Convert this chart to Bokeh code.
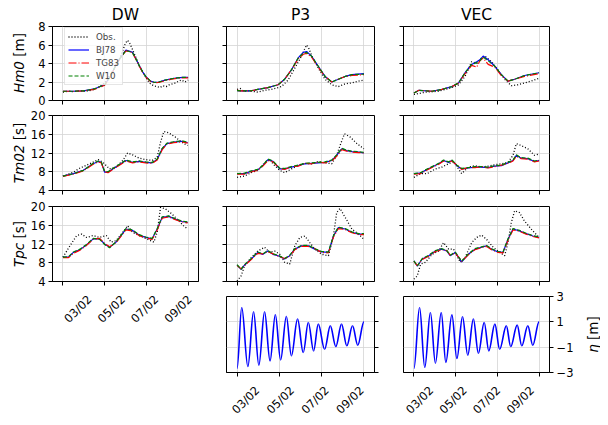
from math import pi
from bokeh.plotting import figure
from bokeh.layouts import row, column
from bokeh.models import Range1d, FixedTicker, Legend, LegendItem, Title
from bokeh.core.properties import value
from bokeh.embed import file_html
from bokeh.resources import INLINE

# ---------------- data (time in days after 03/02 00:00) ----------------
date_ticks = [0, 2, 4, 6]
date_labels = ["03/02", "05/02", "07/02", "09/02"]
stations = ["DW", "P3", "VEC"]
ylab_italic = ["Hm0", "Tm02", "Tpc"]
ylab_rest = ["[m]", "[s]", "[s]"]
eta_lab_italic = "\u03b7"
eta_lab_rest = "[m]"

# --- DW ---
dw_hm0_tm = [0, 0.5, 1.0, 1.5, 2.0, 2.3, 2.55, 2.75, 2.9, 3.02, 3.18, 3.34, 3.5, 3.65, 3.82, 3.97, 4.2, 4.4, 4.6, 4.9, 5.2, 5.5, 5.75, 6.0]
dw_hm0_bj = [1.0, 1.0, 1.05, 1.25, 1.7, 2.7, 3.9, 4.6, 5.1, 5.45, 5.35, 5.2, 4.5, 3.8, 3.1, 2.6, 2.1, 1.95, 2.0, 2.2, 2.35, 2.45, 2.5, 2.5]
dw_hm0_tg = [1.0, 1.0, 1.05, 1.2, 1.65, 2.65, 3.85, 4.55, 5.05, 5.35, 5.3, 5.15, 4.45, 3.75, 3.05, 2.55, 2.05, 1.9, 1.95, 2.15, 2.3, 2.4, 2.45, 2.45]
dw_hm0_w10 = [1.0, 1.0, 1.05, 1.25, 1.7, 2.7, 3.9, 4.6, 5.05, 5.4, 5.3, 5.15, 4.5, 3.8, 3.1, 2.6, 2.1, 1.95, 2.0, 2.2, 2.35, 2.45, 2.5, 2.5]
dw_hm0_to = [0, 0.25, 0.5, 0.75, 1.0, 1.25, 1.5, 1.75, 2.0, 2.25, 2.45, 2.6, 2.75, 2.9, 3.0, 3.1, 3.2, 3.3, 3.45, 3.6, 3.75, 3.9, 4.05, 4.2, 4.35, 4.5, 4.65, 4.8, 4.95, 5.1, 5.25, 5.4, 5.55, 5.7, 5.85, 6.0]
dw_hm0_obs = [0.9, 1.0, 0.95, 1.05, 1.0, 1.05, 1.2, 1.5, 1.9, 2.7, 3.4, 4.0, 4.7, 5.6, 6.2, 6.5, 6.2, 5.7, 4.9, 4.1, 3.4, 2.8, 2.2, 1.8, 1.6, 1.5, 1.4, 1.6, 1.5, 1.7, 1.8, 1.9, 2.1, 2.2, 2.0, 2.2]

dw_tm_tm = [0, 0.5, 0.98, 1.45, 1.69, 1.84, 2.0, 2.16, 2.39, 2.71, 3.02, 3.34, 3.65, 3.97, 4.28, 4.52, 4.76, 4.99, 5.31, 5.7, 5.98]
dw_tm_bj = [7.06, 7.6, 8.3, 9.7, 10.2, 10.0, 7.9, 7.9, 8.6, 9.5, 10.4, 10.0, 10.2, 10.0, 9.9, 10.6, 12.9, 14.0, 14.3, 14.5, 14.2]
dw_tm_tg = [7.0, 7.5, 8.2, 9.6, 10.1, 9.9, 8.0, 7.8, 8.5, 9.4, 10.3, 9.9, 10.1, 9.9, 9.8, 10.5, 12.7, 13.9, 14.2, 14.4, 14.1]
dw_tm_w10 = [7.06, 7.6, 8.3, 9.8, 10.3, 10.1, 8.1, 8.0, 8.7, 9.6, 10.5, 10.1, 10.3, 10.1, 10.0, 10.7, 13.0, 14.1, 14.4, 14.6, 14.3]
dw_tm_to = [0, 0.5, 0.82, 1.29, 1.69, 1.92, 2.08, 2.24, 2.55, 2.87, 3.10, 3.34, 3.65, 3.97, 4.28, 4.52, 4.68, 4.84, 5.07, 5.39, 5.70, 5.98]
dw_tm_obs = [7.06, 7.9, 8.8, 9.7, 10.6, 10.0, 9.3, 8.6, 9.0, 10.4, 12.0, 11.6, 10.9, 10.6, 10.4, 11.1, 14.3, 16.6, 16.3, 15.4, 14.3, 13.6]

dw_tp_tm = [0, 0.27, 0.5, 0.82, 1.13, 1.45, 1.76, 2.0, 2.24, 2.55, 2.79, 3.02, 3.34, 3.65, 3.97, 4.28, 4.52, 4.76, 5.07, 5.39, 5.70, 5.98]
dw_tp_bj = [9.2, 9.2, 10.2, 10.8, 11.8, 13.1, 13.1, 12.0, 11.3, 12.4, 13.8, 15.2, 14.9, 13.9, 13.4, 13.1, 15.2, 17.7, 17.9, 17.3, 16.8, 16.6]
dw_tp_tg = [9.1, 9.1, 10.0, 10.7, 11.7, 13.0, 13.2, 12.1, 11.4, 12.3, 13.7, 15.0, 14.8, 13.8, 13.3, 13.0, 15.0, 17.5, 17.8, 17.2, 16.7, 16.5]
dw_tp_w10 = [9.2, 9.3, 10.3, 10.9, 11.9, 13.2, 13.0, 11.9, 11.2, 12.5, 13.9, 15.3, 15.0, 14.0, 13.5, 13.2, 15.3, 17.8, 18.0, 17.4, 16.9, 16.7]
dw_tp_to = [0, 0.35, 0.66, 0.90, 1.13, 1.45, 1.76, 2.08, 2.31, 2.55, 2.87, 3.10, 3.34, 3.65, 3.97, 4.36, 4.52, 4.68, 4.91, 5.23, 5.54, 5.78, 5.98]
dw_tp_obs = [9.2, 11.7, 13.8, 14.1, 13.4, 13.8, 13.4, 13.8, 12.4, 12.7, 14.5, 15.9, 14.5, 13.8, 13.2, 12.4, 14.5, 19.8, 19.5, 18.4, 17.0, 15.9, 15.2]

# --- P3 ---
p3_hm0_tm = [0, 0.19, 0.67, 0.98, 1.46, 1.94, 2.25, 2.57, 2.89, 3.13, 3.29, 3.52, 3.84, 4.16, 4.48, 4.79, 5.11, 5.43, 6.0]
p3_hm0_bj = [1.07, 1.05, 1.05, 1.2, 1.4, 1.7, 2.3, 3.3, 4.6, 5.2, 5.3, 4.8, 3.7, 2.6, 2.0, 2.3, 2.6, 2.8, 2.9]
p3_hm0_tg = [1.1, 1.05, 1.05, 1.2, 1.4, 1.7, 2.3, 3.3, 4.5, 5.0, 5.1, 4.7, 3.6, 2.6, 2.0, 2.3, 2.6, 2.7, 2.8]
p3_hm0_w10 = [1.07, 1.05, 1.05, 1.2, 1.4, 1.7, 2.3, 3.3, 4.6, 5.1, 5.2, 4.8, 3.7, 2.6, 2.0, 2.3, 2.6, 2.8, 2.85]
p3_hm0_to = [0, 0.15, 0.3, 0.6, 0.98, 1.3, 1.62, 2.1, 2.41, 2.73, 3.05, 3.2, 3.29, 3.4, 3.52, 3.84, 4.16, 4.48, 4.79, 5.11, 5.43, 5.75, 6.0]
p3_hm0_obs = [1.2, 1.3, 1.0, 1.05, 0.9, 1.1, 1.2, 1.5, 2.2, 3.5, 4.8, 5.6, 6.0, 5.6, 4.9, 3.5, 2.3, 1.7, 1.5, 1.8, 1.9, 2.1, 2.2]

p3_tm_tm = [0, 0.35, 0.67, 0.98, 1.22, 1.46, 1.70, 2.02, 2.25, 2.57, 2.89, 3.21, 3.52, 3.84, 4.16, 4.48, 4.71, 4.95, 5.19, 5.43, 5.75, 6.0]
p3_tm_bj = [7.6, 7.6, 8.1, 8.4, 9.3, 10.6, 10.2, 8.6, 8.6, 9.0, 9.3, 9.7, 9.8, 9.9, 10.0, 10.4, 11.5, 12.9, 12.5, 12.3, 12.2, 12.0]
p3_tm_tg = [7.5, 7.5, 8.0, 8.3, 9.2, 10.4, 10.1, 8.7, 8.5, 9.1, 9.2, 9.8, 9.7, 10.0, 9.9, 10.3, 11.3, 12.7, 12.4, 12.2, 12.1, 12.0]
p3_tm_w10 = [7.6, 7.7, 8.2, 8.5, 9.4, 10.7, 10.3, 8.7, 8.7, 9.1, 9.4, 9.8, 9.9, 10.0, 10.1, 10.5, 11.6, 13.0, 12.6, 12.4, 12.3, 12.1]
p3_tm_to = [0, 0.35, 0.67, 0.98, 1.30, 1.54, 1.78, 2.02, 2.25, 2.57, 2.89, 3.21, 3.52, 3.84, 4.16, 4.48, 4.71, 4.87, 5.08, 5.35, 5.67, 6.0]
p3_tm_obs = [6.8, 7.1, 7.8, 8.3, 9.9, 10.6, 9.3, 8.3, 7.8, 8.6, 9.3, 9.8, 9.7, 10.2, 9.9, 9.7, 11.5, 13.6, 16.1, 15.4, 14.0, 12.9]

p3_tp_tm = [0, 0.19, 0.35, 0.67, 0.98, 1.22, 1.46, 1.70, 1.94, 2.25, 2.49, 2.73, 3.05, 3.37, 3.68, 4.0, 4.32, 4.56, 4.79, 5.11, 5.43, 5.75, 6.0]
p3_tp_bj = [7.5, 6.6, 7.5, 8.8, 10.2, 9.8, 10.5, 9.8, 9.5, 8.8, 9.5, 10.9, 11.6, 11.6, 10.9, 10.3, 10.2, 13.7, 15.5, 15.2, 14.5, 14.1, 14.1]
p3_tp_tg = [7.4, 6.7, 7.4, 8.7, 10.0, 9.9, 10.4, 9.9, 9.4, 8.9, 9.4, 10.8, 11.5, 11.5, 11.0, 10.2, 10.1, 13.5, 15.3, 15.1, 14.4, 14.0, 14.0]
p3_tp_w10 = [7.6, 6.6, 7.6, 8.9, 10.3, 9.9, 10.6, 9.9, 9.6, 8.9, 9.6, 11.0, 11.7, 11.7, 11.0, 10.4, 10.3, 13.8, 15.6, 15.3, 14.6, 14.2, 14.2]
p3_tp_to = [0, 0.19, 0.35, 0.67, 0.98, 1.30, 1.54, 1.78, 2.02, 2.25, 2.49, 2.73, 2.97, 3.21, 3.44, 3.68, 4.0, 4.32, 4.56, 4.71, 4.87, 5.11, 5.43, 5.75, 6.0]
p3_tp_obs = [4.1, 5.2, 7.3, 9.1, 10.5, 11.3, 10.2, 10.5, 9.8, 8.1, 7.7, 11.6, 13.4, 13.7, 12.3, 10.9, 9.8, 9.5, 13.7, 18.7, 19.6, 17.7, 15.2, 14.1, 13.0]

p3_eta_t = [0, 0.22, 0.51, 0.78, 1.03, 1.30, 1.56, 1.81, 2.06, 2.33, 2.57, 2.86, 3.13, 3.37, 3.62, 3.84, 4.14, 4.41, 4.67, 4.94, 5.19, 5.46, 5.71, 6.0]
p3_eta_v = [-2.68, 2.13, -2.53, 1.79, -2.42, 1.79, -2.08, 1.55, -2.0, 1.42, -1.68, 1.21, -1.42, 0.95, -1.29, 0.82, -1.16, 0.68, -0.95, 0.82, -0.89, 0.68, -0.84, 1.0]

# --- VEC ---
vec_hm0_tm = [0, 0.24, 0.87, 1.34, 1.82, 2.14, 2.45, 2.77, 3.01, 3.16, 3.32, 3.56, 3.88, 4.19, 4.51, 4.83, 5.30, 6.0]
vec_hm0_bj = [0.8, 1.1, 1.0, 1.2, 1.5, 1.9, 3.0, 3.9, 4.2, 4.4, 4.8, 4.4, 3.7, 2.8, 2.1, 2.3, 2.7, 3.0]
vec_hm0_tg = [0.8, 1.1, 1.0, 1.2, 1.5, 1.9, 2.9, 3.8, 3.6, 4.3, 4.6, 3.9, 3.6, 2.7, 2.1, 2.3, 2.6, 2.9]
vec_hm0_w10 = [0.8, 1.1, 1.0, 1.2, 1.5, 1.9, 3.0, 3.9, 4.1, 4.3, 4.7, 4.3, 3.7, 2.8, 2.1, 2.3, 2.7, 3.0]
vec_hm0_to = [0, 0.55, 1.19, 1.82, 2.14, 2.45, 2.77, 3.01, 3.24, 3.40, 3.72, 4.03, 4.35, 4.67, 4.98, 5.30, 5.62, 6.0]
vec_hm0_obs = [0.65, 0.9, 1.0, 1.4, 1.7, 2.6, 4.2, 4.0, 4.6, 4.8, 4.2, 3.3, 2.3, 1.6, 1.7, 1.9, 2.1, 2.4]

vec_tm_tm = [0, 0.32, 0.55, 0.87, 1.19, 1.42, 1.66, 1.82, 2.06, 2.29, 2.61, 2.93, 3.24, 3.56, 3.88, 4.19, 4.51, 4.75, 4.91, 5.14, 5.46, 5.78, 6.0]
vec_tm_bj = [7.6, 7.7, 8.3, 9.0, 9.7, 10.4, 10.0, 10.4, 9.3, 8.6, 8.8, 9.0, 9.0, 8.9, 9.2, 9.3, 9.9, 10.4, 11.5, 10.9, 10.8, 10.2, 10.4]
vec_tm_tg = [7.5, 7.6, 8.2, 8.9, 9.6, 10.3, 10.1, 10.3, 9.4, 8.5, 8.9, 8.9, 9.1, 8.8, 9.1, 9.4, 9.8, 10.3, 11.3, 10.8, 10.7, 10.1, 10.3]
vec_tm_w10 = [7.6, 7.8, 8.4, 9.1, 9.8, 10.5, 10.1, 10.5, 9.4, 8.7, 8.9, 9.1, 9.1, 9.0, 9.3, 9.4, 10.0, 10.5, 11.6, 11.0, 10.9, 10.3, 10.5]
vec_tm_to = [0, 0.32, 0.63, 1.03, 1.34, 1.66, 1.90, 2.14, 2.29, 2.61, 2.93, 3.24, 3.56, 3.88, 4.19, 4.51, 4.75, 4.91, 5.14, 5.46, 5.78, 6.0]
vec_tm_obs = [6.8, 7.6, 7.6, 8.6, 9.0, 9.7, 10.2, 8.6, 7.6, 9.0, 9.3, 9.0, 9.2, 9.5, 9.7, 10.0, 11.5, 14.0, 13.6, 12.9, 11.5, 11.8]

vec_tp_tm = [0, 0.16, 0.40, 0.71, 1.03, 1.34, 1.58, 1.74, 1.98, 2.29, 2.61, 2.93, 3.24, 3.48, 3.72, 4.03, 4.27, 4.51, 4.75, 5.06, 5.38, 5.70, 6.0]
vec_tp_bj = [8.4, 7.3, 8.8, 9.5, 10.5, 10.9, 10.5, 9.5, 10.2, 8.2, 9.8, 10.9, 11.3, 11.6, 10.9, 10.3, 10.2, 13.0, 15.2, 14.8, 14.2, 13.7, 13.4]
vec_tp_tg = [8.3, 7.4, 8.7, 9.4, 10.4, 10.8, 10.6, 9.6, 10.1, 8.3, 9.7, 10.8, 11.2, 11.5, 10.8, 10.2, 10.1, 12.8, 15.0, 14.7, 14.1, 13.6, 13.3]
vec_tp_w10 = [8.4, 7.3, 8.9, 9.6, 10.6, 11.0, 10.6, 9.6, 10.3, 8.3, 9.9, 11.0, 11.4, 11.7, 11.0, 10.4, 10.3, 13.1, 15.3, 14.9, 14.3, 13.8, 13.5]
vec_tp_to = [0, 0.16, 0.32, 0.55, 0.87, 1.19, 1.42, 1.66, 1.90, 2.22, 2.45, 2.77, 3.01, 3.24, 3.48, 3.80, 4.03, 4.35, 4.51, 4.67, 4.83, 5.06, 5.30, 5.62, 6.0]
vec_tp_obs = [4.5, 5.2, 7.7, 8.1, 9.8, 10.5, 12.3, 10.9, 10.9, 8.1, 9.1, 12.3, 13.4, 13.9, 13.0, 11.3, 10.5, 9.5, 12.3, 16.6, 19.1, 18.7, 16.9, 15.2, 13.4]

vec_eta_t = [0, 0.27, 0.52, 0.79, 1.03, 1.31, 1.53, 1.82, 2.06, 2.33, 2.58, 2.85, 3.09, 3.37, 3.59, 3.88, 4.11, 4.43, 4.64, 4.95, 5.17, 5.46, 5.70, 6.0]
vec_eta_v = [-2.68, 2.13, -2.6, 1.74, -2.26, 1.74, -2.2, 1.55, -1.9, 1.39, -1.63, 1.21, -1.47, 0.95, -1.29, 0.82, -1.16, 0.68, -0.95, 0.74, -0.89, 0.68, -0.84, 1.0]

hm0_ticks = [0, 2, 4, 6, 8]
per_ticks = [4, 8, 12, 16, 20]
eta_ticks = [-3, -1, 1, 3]
eta_tick_labels = ["\u22123", "\u22121", "1", "3"]

# ---------------- layout / style ----------------
FONT = "DejaVu Sans"
X_START, X_END = -0.5, 6.5
FRAME_W = 148
PX_DAY = FRAME_W / (X_END - X_START)
LABCOL_W = 27
ETACOL_W = 24
COL_W = [185, 180, 184]
COL_BL = [23, 14, 11]
COL_BR = [14, 18, 25]
TICK_FS = "11.5px"
LABEL_FS = "13.5px"
GRID = "#d4d4d4"

STYLES = {
    "obs": dict(line_color="black", line_width=1.3, line_dash="1 2"),
    "bj": dict(line_color="#0000ff", line_width=1.2),
    "tg": dict(line_color="#ff0000", line_width=1.2, line_dash="8 2 1 2"),
    "w10": dict(line_color="#008000", line_width=1.2, line_dash="4 2"),
}


def style_axis(ax, show_labels):
    ax.axis_line_color = "black"
    ax.axis_line_width = 1
    ax.major_tick_line_color = "black"
    ax.major_tick_line_width = 1
    ax.major_tick_in = 0
    ax.major_tick_out = 4
    ax.minor_tick_line_color = None
    ax.major_label_text_font = FONT
    if show_labels:
        ax.major_label_text_color = "black"
        ax.major_label_text_font_size = TICK_FS
        ax.major_label_standoff = 3
    else:
        ax.major_label_text_color = None
        ax.major_label_text_font_size = "0px"
        ax.major_label_standoff = 0


def blank_fig(width, height, x0, x1, y0, y1):
    p = figure(width=width, height=height, x_range=Range1d(x0, x1), y_range=Range1d(y0, y1),
               output_backend="svg", toolbar_location=None, tools="", min_border=0,
               x_axis_type=None, y_axis_type=None)
    p.outline_line_color = None
    p.background_fill_color = "white"
    p.border_fill_color = "white"
    return p


def make_fig(col, height, bt, bb, y0, y1, yticks, title=None, y_right=False, show_y=False):
    kw = {}
    if title:
        kw["title"] = Title(text=title, align="center", text_font=FONT, text_font_size="15.5px",
                            text_font_style="normal", text_color="black", standoff=6)
    p = figure(width=COL_W[col], height=height,
               x_range=Range1d(X_START, X_END), y_range=Range1d(y0, y1),
               output_backend="svg", toolbar_location=None, tools="",
               min_border_left=COL_BL[col], min_border_right=COL_BR[col],
               min_border_top=bt, min_border_bottom=bb,
               y_axis_location="right" if y_right else "left", **kw)
    p.background_fill_color = "white"
    p.border_fill_color = "white"
    p.outline_line_color = "black"
    p.outline_line_width = 1
    xa = p.xaxis[0]
    xa.ticker = FixedTicker(ticks=date_ticks)
    style_axis(xa, False)
    ya = p.yaxis[0]
    ya.ticker = FixedTicker(ticks=yticks)
    style_axis(ya, show_y)
    p.xgrid.ticker = FixedTicker(ticks=date_ticks)
    p.ygrid.ticker = FixedTicker(ticks=yticks)
    p.xgrid.grid_line_color = GRID
    p.ygrid.grid_line_color = GRID
    p.xgrid.grid_line_width = 0.8
    p.ygrid.grid_line_width = 0.8
    return p


def make_date_strip(col, height, label_y_from_top):
    # strip under a panel sharing its x scale; labels centred on the ticks (rotated 45 deg)
    bl, br = COL_BL[col], COL_BR[col]
    p = blank_fig(COL_W[col], height, X_START - bl / PX_DAY, X_END + br / PX_DAY, 0, height)
    p.text(x=date_ticks, y=[height - label_y_from_top] * len(date_ticks), text=date_labels,
           angle=pi / 4, text_align="center", text_baseline="middle",
           text_font=value(FONT), text_font_size=TICK_FS, text_color="black", x_offset=-1)
    return p


def draw_series(p, tm, bj, tg, w10, to, obs):
    r_obs = p.line(to, obs, **STYLES["obs"])
    r_bj = p.line(tm, bj, **STYLES["bj"])
    r_tg = p.line(tm, tg, **STYLES["tg"])
    r_w10 = p.line(tm, w10, **STYLES["w10"])
    return r_obs, r_bj, r_tg, r_w10


def draw_eta(p, t, v):
    k = 0.364
    x0, x1 = t[:-1], t[1:]
    y0, y1 = v[:-1], v[1:]
    cx0 = [a + k * (b - a) for a, b in zip(x0, x1)]
    cx1 = [b - k * (b - a) for a, b in zip(x0, x1)]
    p.bezier(x0=x0, y0=y0, x1=x1, y1=y1, cx0=cx0, cy0=y0, cx1=cx1, cy1=y1,
             line_color="#0000ff", line_width=1.6)


def add_vertical_labels(p, height, x, centers, split_up, italics, rests, space=4.3):
    ys = [height - (c - s) for c, s in zip(centers, split_up)]
    common = dict(angle=pi / 2, text_baseline="middle", text_font=value(FONT),
                  text_font_size=LABEL_FS, text_color="black")
    p.text(x=[x] * len(ys), y=ys, text=italics, text_align="right",
           text_font_style="italic", **common)
    p.text(x=[x] * len(ys), y=[y + space for y in ys], text=rests, text_align="left", **common)


data = {
    "DW": [(dw_hm0_tm, dw_hm0_bj, dw_hm0_tg, dw_hm0_w10, dw_hm0_to, dw_hm0_obs),
           (dw_tm_tm, dw_tm_bj, dw_tm_tg, dw_tm_w10, dw_tm_to, dw_tm_obs),
           (dw_tp_tm, dw_tp_bj, dw_tp_tg, dw_tp_w10, dw_tp_to, dw_tp_obs)],
    "P3": [(p3_hm0_tm, p3_hm0_bj, p3_hm0_tg, p3_hm0_w10, p3_hm0_to, p3_hm0_obs),
           (p3_tm_tm, p3_tm_bj, p3_tm_tg, p3_tm_w10, p3_tm_to, p3_tm_obs),
           (p3_tp_tm, p3_tp_bj, p3_tp_tg, p3_tp_w10, p3_tp_to, p3_tp_obs)],
    "VEC": [(vec_hm0_tm, vec_hm0_bj, vec_hm0_tg, vec_hm0_w10, vec_hm0_to, vec_hm0_obs),
            (vec_tm_tm, vec_tm_bj, vec_tm_tg, vec_tm_w10, vec_tm_to, vec_tm_obs),
            (vec_tp_tm, vec_tp_bj, vec_tp_tg, vec_tp_w10, vec_tp_to, vec_tp_obs)],
}
eta_data = {"P3": (p3_eta_t, p3_eta_v), "VEC": (vec_eta_t, vec_eta_v)}

row_specs = [  # height, top, bottom, y0, y1, ticks
    (108, 25, 8, 0, 8, hm0_ticks),
    (90, 7, 8, 4, 20, per_ticks),
    (91, 8, 8, 4, 20, per_ticks),
]
TOTAL_H = 417

columns = []
# left column with the y-axis titles
labcol = blank_fig(LABCOL_W, 289, 0, LABCOL_W, 0, 289)
add_vertical_labels(labcol, 289, 18.5, [62.5, 152.5, 243.5], [1.95, 8.35, 1.15],
                    ylab_italic, ylab_rest)
columns.append(labcol)

for c, st in enumerate(stations):
    figs = []
    for r, (h, bt, bb, y0, y1, yt) in enumerate(row_specs):
        p = make_fig(c, h, bt, bb, y0, y1, yt, title=st if r == 0 else None, show_y=(c == 0))
        rends = draw_series(p, *data[st][r])
        if c == 0 and r == 0:
            legend = Legend(items=[LegendItem(label="Obs.", renderers=[rends[0]]),
                                   LegendItem(label="BJ78", renderers=[rends[1]]),
                                   LegendItem(label="TG83", renderers=[rends[2]]),
                                   LegendItem(label="W10", renderers=[rends[3]])],
                            location=(12, 15), label_text_font=FONT, label_text_font_size="8.7px",
                            glyph_width=21, glyph_height=11, label_height=11, spacing=2,
                            padding=3, margin=0, label_standoff=7,
                            border_line_color="#cccccc", border_line_width=1,
                            background_fill_color="white", background_fill_alpha=0.8)
            p.add_layout(legend)
        figs.append(p)
    if c == 0:
        figs.append(make_date_strip(c, 60, 19.5))
    else:
        p = make_fig(c, 91, 7, 8, -3, 3, eta_ticks, y_right=True, show_y=(c == 2))
        if c == 2:
            p.yaxis[0].major_label_overrides = dict(zip(eta_ticks, eta_tick_labels))
        draw_eta(p, *eta_data[st])
        figs.append(p)
        figs.append(make_date_strip(c, TOTAL_H - 380, 19.5))
    columns.append(column(*figs, spacing=0))

# right column with the eta axis title
etacol = blank_fig(ETACOL_W, TOTAL_H, 0, ETACOL_W, 0, TOTAL_H)
add_vertical_labels(etacol, TOTAL_H, 16, [334], [-9.7], [eta_lab_italic], [eta_lab_rest])
columns.append(etacol)

layout = row(*columns, spacing=0)

open("out.html", "w").write(file_html(layout, INLINE))
